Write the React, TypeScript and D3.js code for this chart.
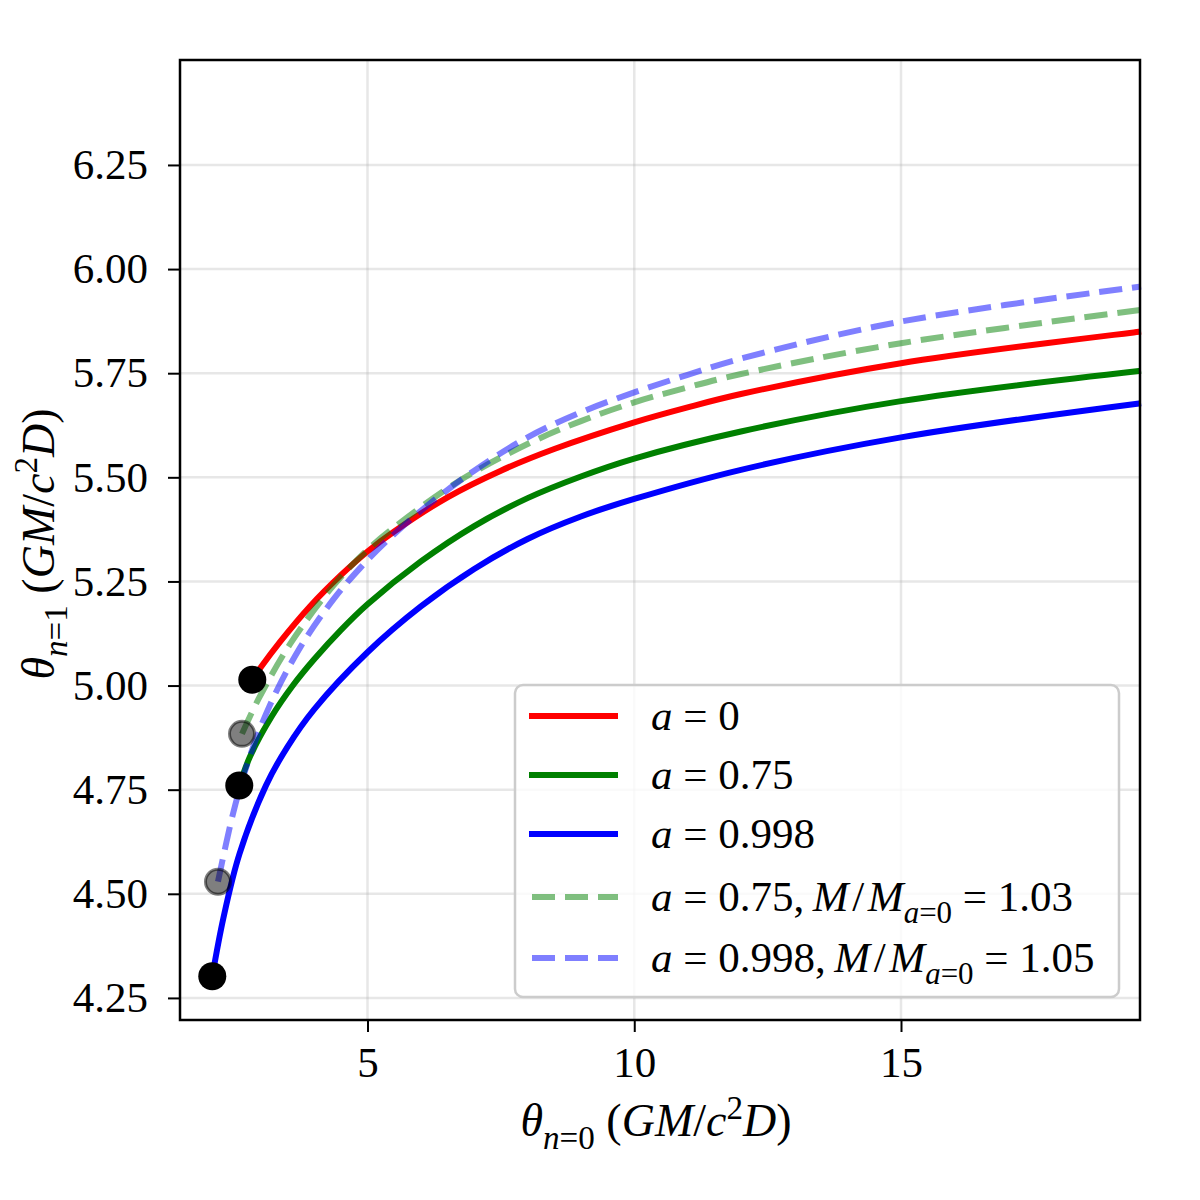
import React, { useEffect, useRef } from 'react';
import * as d3 from 'd3';

// theta_{n=0} vs theta_{n=1}
const redX = [2.84, 3.0, 3.36, 3.92, 4.5, 5.0, 5.5, 6.5, 7.5, 8.5, 10, 11, 12, 15, 19.5];
const redY = [5.014, 5.044, 5.105, 5.19, 5.265, 5.322, 5.37, 5.452, 5.516, 5.568, 5.632, 5.668, 5.7, 5.774, 5.85];

const greenX = [2.596, 2.8, 3.2, 3.6, 4.0, 4.5, 5.0, 6.0, 7.0, 8.0, 9.0, 10, 12, 15, 19.5];
const greenY = [4.76, 4.83, 4.925, 5.0, 5.063, 5.133, 5.195, 5.298, 5.383, 5.45, 5.502, 5.545, 5.61, 5.683, 5.756];

const blueX = [2.09, 2.3, 2.6, 3.1, 3.5, 4.0, 5.0, 6.0, 7.0, 8.0, 9.0, 10, 12, 15, 19.5];
const blueY = [4.302, 4.443, 4.596, 4.761, 4.853, 4.943, 5.08, 5.19, 5.28, 5.352, 5.406, 5.448, 5.518, 5.596, 5.678];

const greenDashX = [2.647, 2.95, 3.55, 4.36, 5.0, 5.5, 6.7, 8.0, 9.0, 10, 11, 12, 15, 19.5];
const greenDashY = [4.884, 4.966, 5.1, 5.24, 5.326, 5.38, 5.49, 5.58, 5.635, 5.68, 5.716, 5.748, 5.822, 5.902];

const blueDashX = [2.197, 2.48, 2.77, 3.17, 3.73, 4.36, 4.86, 5.36, 6.1, 7, 8, 9, 10, 11, 12, 15, 19.5];
const blueDashY = [4.529, 4.693, 4.821, 4.953, 5.09, 5.207, 5.282, 5.347, 5.43, 5.516, 5.596, 5.656, 5.704, 5.746, 5.785, 5.874, 5.958];

// end points (black: spin-only, grey: mass-rescaled)
const blackX = [2.84, 2.596, 2.09];
const blackY = [5.014, 4.76, 4.302];
const greyX = [2.647, 2.197];
const greyY = [4.884, 4.529];

const xTicks = [5, 10, 15];
const yTicks = [4.25, 4.5, 4.75, 5.0, 5.25, 5.5, 5.75, 6.0, 6.25];

type Part = { t: string; i?: boolean; sub?: boolean; sup?: boolean };

const legendLabels: Part[][] = [
  [{ t: 'a', i: true }, { t: ' = 0' }],
  [{ t: 'a', i: true }, { t: ' = 0.75' }],
  [{ t: 'a', i: true }, { t: ' = 0.998' }],
  [
    { t: 'a', i: true }, { t: ' = 0.75,\u2009' }, { t: 'M', i: true }, { t: '\u200a/\u200a' }, { t: 'M', i: true },
    { t: 'a', i: true, sub: true }, { t: '=0', sub: true }, { t: ' = 1.03' },
  ],
  [
    { t: 'a', i: true }, { t: ' = 0.998,\u2009' }, { t: 'M', i: true }, { t: '\u200a/\u200a' }, { t: 'M', i: true },
    { t: 'a', i: true, sub: true }, { t: '=0', sub: true }, { t: ' = 1.05' },
  ],
];

const FONT = "'Liberation Serif', 'Times New Roman', serif";

const App: React.FC = () => {
  const svgRef = useRef<SVGSVGElement>(null);

  useEffect(() => {
    if (!svgRef.current) return;
    const width = 1200;
    const height = 1200;
    const margin = { top: 60, right: 60, bottom: 180, left: 180 };
    const innerWidth = width - margin.left - margin.right;
    const innerHeight = height - margin.top - margin.bottom;

    const svg = d3.select(svgRef.current);
    svg.selectAll('*').remove();
    svg.attr('width', width).attr('height', height);
    svg.append('rect').attr('width', width).attr('height', height).attr('fill', '#fff');

    const g = svg.append('g').attr('transform', `translate(${margin.left},${margin.top})`);

    const xScale = d3.scaleLinear().domain([1.485, 19.48]).range([0, innerWidth]);
    const yScale = d3.scaleLinear().domain([4.197, 6.502]).range([innerHeight, 0]);

    // grid
    g.append('g')
      .selectAll('line')
      .data(xTicks)
      .enter()
      .append('line')
      .attr('x1', (d) => xScale(d))
      .attr('x2', (d) => xScale(d))
      .attr('y1', 0)
      .attr('y2', innerHeight)
      .attr('stroke', '#b0b0b0')
      .attr('stroke-opacity', 0.3)
      .attr('stroke-width', 2.5);
    g.append('g')
      .selectAll('line')
      .data(yTicks)
      .enter()
      .append('line')
      .attr('x1', 0)
      .attr('x2', innerWidth)
      .attr('y1', (d) => yScale(d))
      .attr('y2', (d) => yScale(d))
      .attr('stroke', '#b0b0b0')
      .attr('stroke-opacity', 0.3)
      .attr('stroke-width', 2.5);

    const series = [
      { xs: redX, ys: redY, color: '#ff0000', opacity: 1, dash: null },
      { xs: greenX, ys: greenY, color: '#008000', opacity: 1, dash: null },
      { xs: blueX, ys: blueY, color: '#0000ff', opacity: 1, dash: null },
      { xs: greenDashX, ys: greenDashY, color: '#008000', opacity: 0.5, dash: '23,10' },
      { xs: blueDashX, ys: blueDashY, color: '#0000ff', opacity: 0.5, dash: '23,10' },
    ];

    const line = d3
      .line<[number, number]>()
      .x((d) => xScale(d[0]))
      .y((d) => yScale(d[1]))
      .curve(d3.curveCatmullRom.alpha(0.5));

    const lines = g.append('g');
    series.forEach((s) => {
      const pts = s.xs.map((x, i) => [x, s.ys[i]] as [number, number]);
      const p = lines
        .append('path')
        .attr('d', line(pts))
        .attr('fill', 'none')
        .attr('stroke', s.color)
        .attr('stroke-opacity', s.opacity)
        .attr('stroke-width', 6);
      if (s.dash) p.attr('stroke-dasharray', s.dash);
    });

    g.append('g')
      .selectAll('circle')
      .data(blackX.map((x, i) => [x, blackY[i]]))
      .enter()
      .append('circle')
      .attr('cx', (d) => xScale(d[0]))
      .attr('cy', (d) => yScale(d[1]))
      .attr('r', 14)
      .attr('fill', '#000');

    g.append('g')
      .selectAll('circle')
      .data(greyX.map((x, i) => [x, greyY[i]]))
      .enter()
      .append('circle')
      .attr('cx', (d) => xScale(d[0]))
      .attr('cy', (d) => yScale(d[1]))
      .attr('r', 12.5)
      .attr('fill', '#000')
      .attr('fill-opacity', 0.5)
      .attr('stroke', '#000')
      .attr('stroke-opacity', 0.5)
      .attr('stroke-width', 3);

    // axes
    const xAxis = g
      .append('g')
      .attr('transform', `translate(0,${innerHeight})`)
      .call(d3.axisBottom(xScale).tickValues(xTicks).tickSize(12).tickPadding(14).tickFormat(d3.format('d')));
    const yAxis = g
      .append('g')
      .call(d3.axisLeft(yScale).tickValues(yTicks).tickSize(12).tickPadding(20).tickFormat(d3.format('.2f')));
    [xAxis, yAxis].forEach((a) => {
      a.select('.domain').remove();
      a.selectAll('line').attr('stroke', '#000').attr('stroke-width', 2);
      a.selectAll('text').attr('font-family', FONT).attr('font-size', 43).attr('fill', '#000');
    });

    g.append('rect')
      .attr('width', innerWidth)
      .attr('height', innerHeight)
      .attr('fill', 'none')
      .attr('stroke', '#000')
      .attr('stroke-width', 2.5);

    const mathText = (sel: d3.Selection<SVGTextElement, unknown, null, undefined>, parts: Part[], size: number) => {
      let shift = 0;
      parts.forEach((p) => {
        const ts = sel.append('tspan').text(p.t);
        if (p.i) ts.attr('font-style', 'italic');
        let target = 0;
        if (p.sub) target = size * 0.28;
        if (p.sup) target = -size * 0.38;
        if (p.sub || p.sup) ts.attr('font-size', size * 0.72);
        if (target !== shift) {
          ts.attr('dy', target - shift);
          shift = target;
        }
      });
    };

    // legend
    const legend = svg.append('g').attr('transform', 'translate(515,685)');
    legend
      .append('rect')
      .attr('width', 604)
      .attr('height', 312)
      .attr('rx', 8)
      .attr('fill', '#fff')
      .attr('fill-opacity', 0.8)
      .attr('stroke', '#cccccc')
      .attr('stroke-width', 2.5);
    const rowY = [31, 90, 149, 212, 273];
    series.forEach((s, i) => {
      const l = legend
        .append('line')
        .attr('x1', 14)
        .attr('x2', 103)
        .attr('y1', rowY[i])
        .attr('y2', rowY[i])
        .attr('stroke', s.color)
        .attr('stroke-opacity', s.opacity)
        .attr('stroke-width', 6);
      if (s.dash) l.attr('stroke-dasharray', s.dash).attr('x1', 17);
      const t = legend
        .append('text')
        .attr('x', 136)
        .attr('y', rowY[i] + 14)
        .attr('font-family', FONT)
        .attr('font-size', 43);
      mathText(t, legendLabels[i], 43);
    });

    // axis labels
    const xl = svg
      .append('text')
      .attr('x', 656)
      .attr('y', 1136)
      .attr('text-anchor', 'middle')
      .attr('font-family', FONT)
      .attr('font-size', 46);
    mathText(
      xl,
      [
        { t: 'θ', i: true }, { t: 'n', i: true, sub: true }, { t: '=0', sub: true }, { t: ' (' },
        { t: 'GM', i: true }, { t: '/' }, { t: 'c', i: true }, { t: '2', sup: true }, { t: 'D', i: true }, { t: ')' },
      ],
      46
    );

    const yl = svg
      .append('text')
      .attr('transform', 'translate(54,544) rotate(-90)')
      .attr('text-anchor', 'middle')
      .attr('font-family', FONT)
      .attr('font-size', 46);
    mathText(
      yl,
      [
        { t: 'θ', i: true }, { t: 'n', i: true, sub: true }, { t: '=1', sub: true }, { t: ' (' },
        { t: 'GM', i: true }, { t: '/' }, { t: 'c', i: true }, { t: '2', sup: true }, { t: 'D', i: true }, { t: ')' },
      ],
      46
    );
  }, []);

  return <svg ref={svgRef} style={{ position: 'absolute', left: 0, top: 0 }} />;
};

export default App;
